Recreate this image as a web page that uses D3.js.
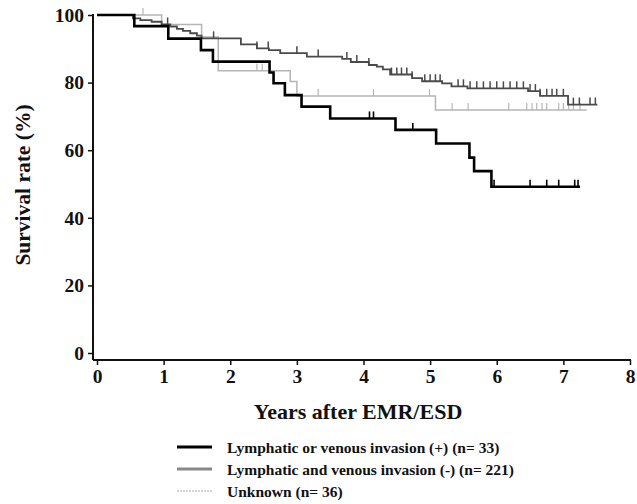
<!DOCTYPE html>
<html>
<head>
<meta charset="utf-8">
<script src="https://cdn.jsdelivr.net/npm/d3@7"></script>
<style>
  body { margin: 0; background: #fff; }
  text { font-family: "Liberation Serif", "DejaVu Serif", serif; font-weight: bold; fill: #111; }
</style>
</head>
<body>
<div id="chart"></div>
<script>
// Kaplan-Meier curves (years, survival %)
var posTimes = [0, 0.56, 1.07, 1.56, 1.74, 2.59, 2.65, 2.82, 3.07, 3.50, 4.48, 5.09, 5.59, 5.66, 5.92, 7.25];
var posSurv  = [100, 96.7, 93.0, 89.6, 86.2, 83.0, 79.8, 76.3, 72.9, 69.4, 66.0, 62.0, 57.8, 53.8, 49.2, 49.2];
var posCens  = [4.09, 4.15, 4.74, 5.96, 6.50, 6.75, 6.93, 7.17, 7.22];

var negTimes = [0, 0.54, 0.65, 0.82, 0.97, 1.10, 1.20, 1.29, 1.40, 1.50, 1.57, 2.16, 2.40, 2.58, 2.75, 3.15, 3.68, 3.81, 4.08, 4.20, 4.29, 4.40, 4.73, 4.88, 5.18, 5.32, 5.56, 6.47, 6.65, 7.07, 7.51];
var negSurv  = [100, 99.0, 98.5, 98.0, 97.2, 96.6, 95.9, 95.3, 94.6, 93.9, 93.1, 91.3, 90.1, 89.6, 88.7, 87.7, 87.0, 86.1, 85.2, 84.7, 83.9, 82.4, 81.3, 80.4, 79.8, 78.9, 78.3, 77.5, 76.1, 73.5, 73.5];
var negCens  = [1.06, 1.75, 2.40, 2.57, 3.00, 3.32, 3.75, 3.90, 4.08, 4.42, 4.50, 4.57, 4.65, 4.73, 4.92, 5.00, 5.08, 5.15, 5.42, 5.50, 5.60, 5.70, 5.80, 5.90, 6.00, 6.10, 6.20, 6.30, 6.40, 6.50, 6.58, 6.65, 6.75, 6.83, 6.90, 7.00, 7.15, 7.24, 7.40, 7.48];

var unkTimes = [0, 0.97, 1.57, 1.82, 2.90, 3.00, 5.08, 7.35];
var unkSurv  = [100, 97.2, 93.5, 83.5, 80.3, 76.0, 71.9, 71.9];
var unkCens  = [0.69, 2.40, 2.48, 3.32, 4.15, 4.99, 5.33, 5.57, 6.18, 6.45, 6.53, 6.60, 6.68, 6.75, 6.93, 7.00, 7.08, 7.15, 7.25];

var xTicks = [0, 1, 2, 3, 4, 5, 6, 7, 8];
var yTicks = [0, 20, 40, 60, 80, 100];
var legendLabels = ["Lymphatic or venous invasion (+) (n= 33)",
                    "Lymphatic and venous invasion (-) (n= 221)",
                    "Unknown (n= 36)"];

var W = 637, H = 504;
var svg = d3.select("#chart").append("svg")
    .attr("width", W).attr("height", H);

var x = d3.scaleLinear().domain([0, 8]).range([97, 630]);
var y = d3.scaleLinear().domain([0, 100]).range([353, 15]);
var axisX = 93, axisY = 360;

// y axis
var yAxis = svg.append("g")
    .attr("transform", "translate(" + axisX + ",0)")
    .call(d3.axisLeft(y).tickValues(yTicks).tickSize(5).tickSizeOuter(0));
yAxis.select(".domain").remove();
yAxis.selectAll(".tick line").attr("stroke", "#111").attr("stroke-width", 1.5);
yAxis.selectAll(".tick text").attr("x", -9).attr("font-size", 19.5)
    .style("font-family", "Liberation Serif").style("font-weight", "bold");
svg.append("line").attr("x1", axisX).attr("x2", axisX).attr("y1", 14).attr("y2", axisY)
    .attr("stroke", "#111").attr("stroke-width", 2);

// x axis
var xAxis = svg.append("g")
    .attr("transform", "translate(0," + axisY + ")")
    .call(d3.axisBottom(x).tickValues(xTicks).tickSize(5).tickSizeOuter(0));
xAxis.select(".domain").remove();
xAxis.selectAll(".tick line").attr("stroke", "#111").attr("stroke-width", 1.5);
xAxis.selectAll(".tick text").attr("y", 9).attr("font-size", 19.5)
    .style("font-family", "Liberation Serif").style("font-weight", "bold");
svg.append("line").attr("x1", axisX).attr("x2", 631).attr("y1", axisY).attr("y2", axisY)
    .attr("stroke", "#111").attr("stroke-width", 2);

// axis titles
svg.append("text")
    .attr("transform", "translate(23,185) rotate(-90)")
    .attr("text-anchor", "middle").attr("dominant-baseline", "central")
    .attr("font-size", 21.5)
    .text("Survival rate (%)");
svg.append("text")
    .attr("x", 358).attr("y", 419)
    .attr("text-anchor", "middle")
    .attr("font-size", 22)
    .text("Years after EMR/ESD");

var line = d3.line()
    .x(function(d) { return x(d[0]); })
    .y(function(d) { return y(d[1]); })
    .curve(d3.curveStepAfter);

function survAt(times, surv, t) {
  var i = d3.bisectRight(times, t) - 1;
  return surv[Math.max(0, i)];
}

function drawCurve(times, surv, cens, color, width, tickW) {
  var pts = times.map(function(t, i) { return [t, surv[i]]; });
  svg.append("path")
      .datum(pts)
      .attr("d", line)
      .attr("fill", "none")
      .attr("stroke", color)
      .attr("stroke-width", width);
  svg.append("g").selectAll("line")
      .data(cens)
      .enter().append("line")
      .attr("x1", function(d) { return x(d); })
      .attr("x2", function(d) { return x(d); })
      .attr("y1", function(d) { return y(survAt(times, surv, d)); })
      .attr("y2", function(d) { return y(survAt(times, surv, d)) - 7; })
      .attr("stroke", color)
      .attr("stroke-width", tickW);
}

var colors = ["#000", "#4a4a4a", "#b5b5b5"];
var widths = [2.6, 1.8, 1.5];

drawCurve(unkTimes, unkSurv, unkCens, colors[2], widths[2], 1.2);
drawCurve(negTimes, negSurv, negCens, colors[1], widths[1], 1.5);
drawCurve(posTimes, posSurv, posCens, colors[0], widths[0], 1.6);

// legend
var legendColors = ["#000", "#888", "#c8c8c8"];
var leg = svg.append("g").selectAll("g")
    .data(legendLabels)
    .enter().append("g")
    .attr("transform", function(d, i) { return "translate(0," + (447 + i * 22) + ")"; });
leg.append("line")
    .attr("x1", 177).attr("x2", 212)
    .attr("stroke", function(d, i) { return legendColors[i]; })
    .attr("stroke-width", function(d, i) { return i == 2 ? 1.5 : 3; })
    .attr("stroke-dasharray", function(d, i) { return i == 2 ? "2,1" : null; });
leg.append("text")
    .attr("x", 227).attr("dominant-baseline", "central")
    .attr("font-size", 15.5)
    .text(function(d) { return d; });
</script>
</body>
</html>
